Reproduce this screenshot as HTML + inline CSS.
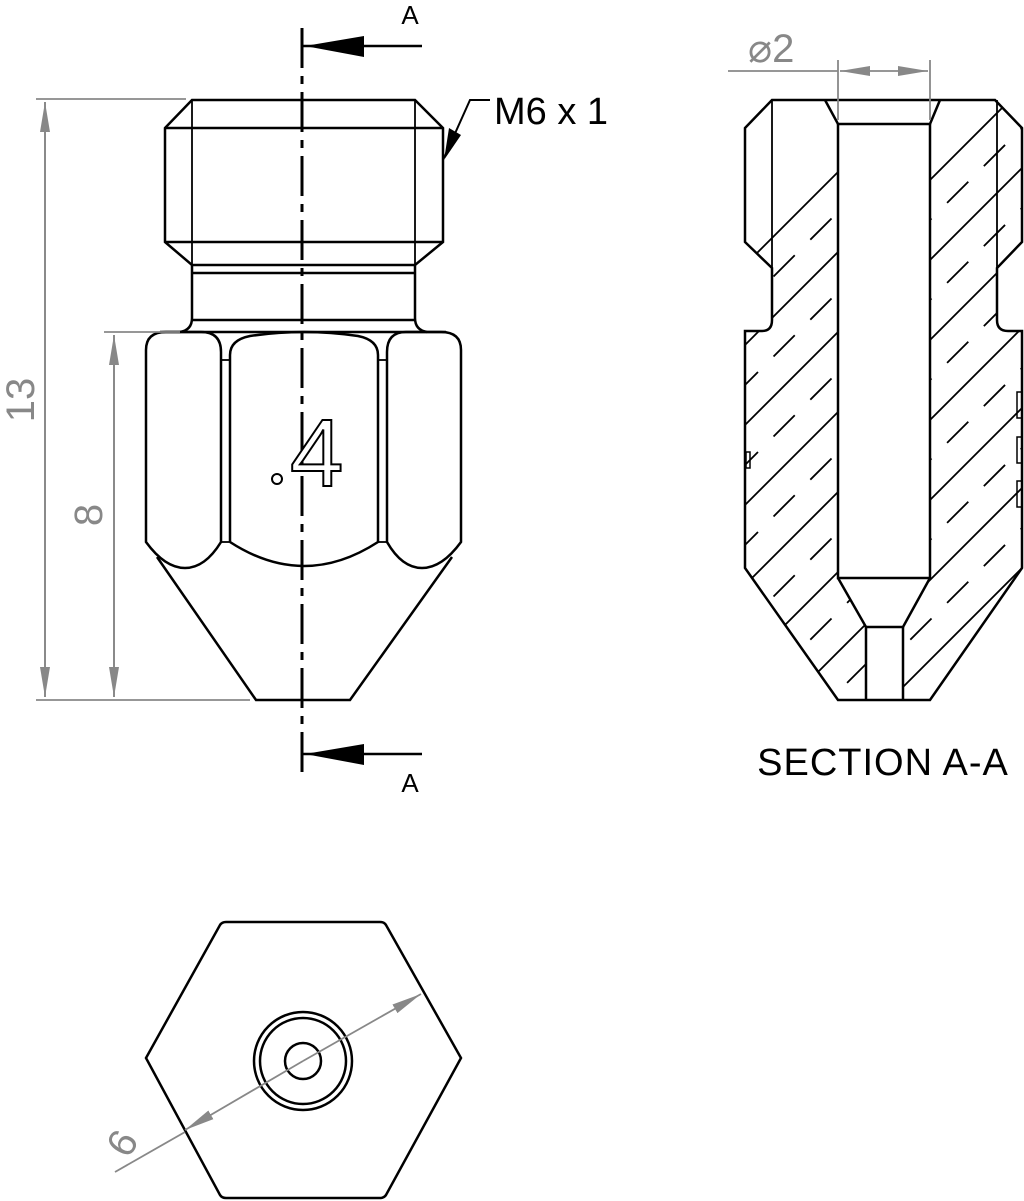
<!DOCTYPE html>
<html><head><meta charset="utf-8"><style>html,body{margin:0;padding:0;background:#fff}svg{display:block}</style></head>
<body>
<svg width="1024" height="1201" viewBox="0 0 1024 1201" xmlns="http://www.w3.org/2000/svg" font-family="'Liberation Sans',sans-serif">
<defs>
<clipPath id="lw"><path d="M772,100 L825,100 L838,124 L838,578 L866,627 L866,700 L838,700 L745,568 L745,331 L762,331 Q772,331 772,320 L772,268 L745,242 L745,128 Z"/></clipPath>
<clipPath id="rw"><path d="M930,124 L940,100 L995,100 L1022,128 L1022,242 L997,268 L997,320 Q997,331 1008,331 L1022,331 L1022,568 L930,700 L903,700 L903,627 L930,578 Z"/></clipPath>
<marker id="ag" viewBox="0 0 30 10" refX="30" refY="5" markerWidth="30" markerHeight="10" markerUnits="userSpaceOnUse" orient="auto"><path d="M0,0 L30,5 L0,10 Z" fill="#888"/></marker>
</defs>
<g fill="none" stroke="#000" stroke-width="2.5">
<path d="M192,100 L415,100 L443,128 L443,242 L415,265 L192,265 L165,242 L165,128 Z"/>
<line x1="165" y1="128" x2="443" y2="128"/><line x1="165" y1="242" x2="443" y2="242"/>
<line x1="192" y1="100" x2="192" y2="265" stroke-width="1.8"/><line x1="415" y1="100" x2="415" y2="265" stroke-width="1.8"/>
<line x1="192" y1="273" x2="415" y2="273"/>
<path d="M192,265 L192,318 Q192,330 180,332 M415,265 L415,318 Q415,330 427,332"/>
<line x1="192" y1="320" x2="415" y2="320"/>
<line x1="160" y1="332" x2="446" y2="332"/>
<path d="M146,542 L146,350 Q146,332 166,332 L201,332 Q221,332 221,352 L221,542 Q205,568 185,568 Q165,568 146,542 Z"/>
<path d="M461,542 L461,350 Q461,332 441,332 L406,332 Q387,332 387,352 L387,542 Q402,568 422,568 Q442,568 461,542 Z"/>
<line x1="221" y1="360" x2="230" y2="360" stroke-width="1.8"/><line x1="221" y1="542" x2="230" y2="542" stroke-width="1.8"/>
<line x1="378" y1="360" x2="387" y2="360" stroke-width="1.8"/><line x1="378" y1="542" x2="387" y2="542" stroke-width="1.8"/>
<path d="M230,542 L230,355 Q230,340 250,336 Q304,328 358,336 Q378,340 378,355 L378,542 Q304,590 230,542"/>
<path d="M157,557 L256,700 L350,700 L452,557"/>
<path d="M146,1058 L220,925 Q222,922 226,922 L380,922 Q384,922 386,925 L461,1058 L386,1195 Q384,1198 380,1198 L226,1198 Q222,1198 220,1195 Z"/>
<circle cx="303" cy="1061" r="49"/><circle cx="303" cy="1061" r="43"/><circle cx="303" cy="1061" r="18"/>
<path d="M772,100 L995,100 L1022,128 L1022,242 L997,268 L997,320 Q997,331 1008,331 L1022,331 L1022,568 L930,700 L838,700 L745,568 L745,331 L762,331 Q772,331 772,320 L772,268 L745,242 L745,128 Z"/>
<line x1="772" y1="100" x2="772" y2="268" stroke-width="1.8"/><line x1="997" y1="100" x2="997" y2="268" stroke-width="1.8"/>
<path d="M825,100 L838,124 L930,124 L940,100"/>
<path d="M838,124 L838,578 L930,578 L930,124"/>
<path d="M838,578 L866,627 L903,627 L930,578"/>
<path d="M866,627 L866,700 M903,627 L903,700"/>
<rect x="746" y="452" width="4" height="16" stroke-width="1.5"/>
<rect x="1017" y="392" width="5" height="26" stroke-width="1.5"/><rect x="1017" y="437" width="5" height="26" stroke-width="1.5"/><rect x="1017" y="481" width="5" height="26" stroke-width="1.5"/>
<circle cx="277" cy="479" r="5" stroke-width="2"/>
</g>
<g stroke="#000" stroke-width="1.8" fill="none">
<g clip-path="url(#lw)">
<path d="M700,310 L1100,-90 M700,390 L1100,-10 M700,470 L1100,70 M700,550 L1100,150 M700,630 L1100,230 M700,710 L1100,310 M700,790 L1100,390 M700,870 L1100,470 M700,950 L1100,550"/>
<path stroke-dasharray="30 22" d="M700,350 L1100,-50 M700,430 L1100,30 M700,510 L1100,110 M700,590 L1100,190 M700,670 L1100,270 M700,750 L1100,350 M700,830 L1100,430 M700,910 L1100,510 M700,990 L1100,590"/>
</g>
<g clip-path="url(#rw)">
<path d="M800,310 L1200,-90 M800,390 L1200,-10 M800,470 L1200,70 M800,550 L1200,150 M800,630 L1200,230 M800,710 L1200,310 M800,790 L1200,390 M800,870 L1200,470 M800,950 L1200,550 M800,1030 L1200,630"/>
<path stroke-dasharray="30 22" d="M800,350 L1200,-50 M800,430 L1200,30 M800,510 L1200,110 M800,590 L1200,190 M800,670 L1200,270 M800,750 L1200,350 M800,830 L1200,430 M800,910 L1200,510 M800,990 L1200,590"/>
</g>
</g>
<line x1="302" y1="28" x2="302" y2="775" stroke="#000" stroke-width="3" stroke-dasharray="40 8 8 8"/>
<line x1="302" y1="46" x2="422" y2="46" stroke="#000" stroke-width="2.5"/>
<path d="M305,46 L364,36 L364,57 Z" fill="#000"/>
<line x1="302" y1="754" x2="422" y2="754" stroke="#000" stroke-width="2.5"/>
<path d="M305,754 L364,744 L364,765 Z" fill="#000"/>
<text x="410" y="24" font-size="26" fill="#000" text-anchor="middle">A</text>
<text x="410" y="792" font-size="26" fill="#000" text-anchor="middle">A</text>
<path d="M490,100 L470,100 L444,158" stroke="#000" stroke-width="2" fill="none"/>
<path d="M444,160 L449,128 L461,135 Z" fill="#000"/>
<text x="494" y="124" font-size="38" fill="#000">M6 x 1</text>
<text x="883" y="775" font-size="38" fill="#000" text-anchor="middle" letter-spacing="1">SECTION A-A</text>
<text x="290" y="486" font-size="96" fill="#fff" stroke="#000" stroke-width="2">4</text>
<g stroke="#888" stroke-width="1.8" fill="none">
<line x1="36" y1="99" x2="186" y2="99"/><line x1="36" y1="700" x2="250" y2="700"/>
<line x1="104" y1="332" x2="180" y2="332"/>
<line x1="45" y1="102" x2="45" y2="697" marker-end="url(#ag)"/><line x1="45" y1="697" x2="45" y2="102" marker-end="url(#ag)"/>
<line x1="114" y1="335" x2="114" y2="697" marker-end="url(#ag)"/><line x1="114" y1="697" x2="114" y2="335" marker-end="url(#ag)"/>
<line x1="728" y1="71" x2="838" y2="71"/>
<line x1="838" y1="60" x2="838" y2="120"/><line x1="930" y1="60" x2="930" y2="120"/>
<line x1="884" y1="71" x2="840" y2="71" marker-end="url(#ag)"/><line x1="884" y1="71" x2="928" y2="71" marker-end="url(#ag)"/>
<line x1="115" y1="1172" x2="185" y2="1132"/>
<line x1="303" y1="1061" x2="185" y2="1130" marker-end="url(#ag)"/><line x1="303" y1="1061" x2="421" y2="994" marker-end="url(#ag)"/>
</g>
<g fill="#888" font-size="40">
<text transform="translate(34,400) rotate(-90)" text-anchor="middle">13</text>
<text transform="translate(102,515) rotate(-90)" text-anchor="middle">8</text>
<text x="748" y="62">⌀2</text>
<text transform="translate(134,1150) rotate(-60)" text-anchor="middle">6</text>
</g>
</svg>
</body></html>
